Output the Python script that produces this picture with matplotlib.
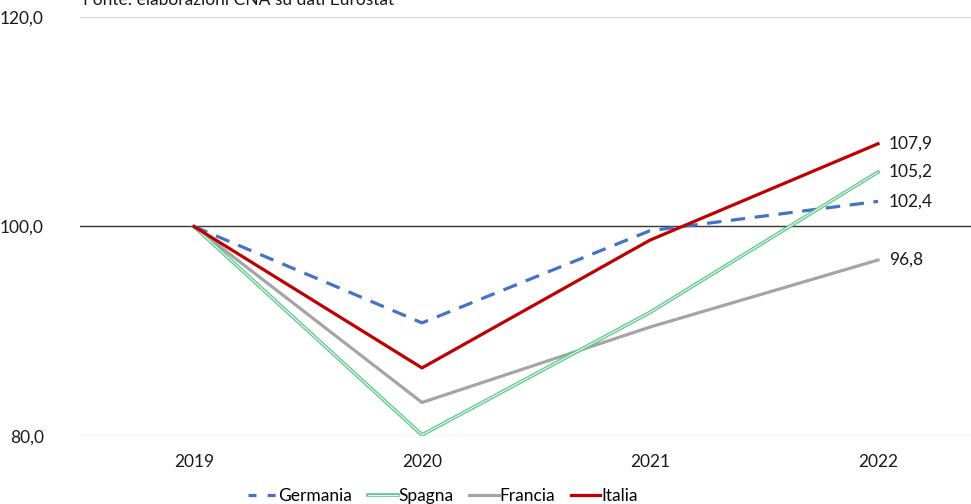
import numpy as np
import matplotlib
matplotlib.use("Agg")
import matplotlib.pyplot as plt
from matplotlib.lines import Line2D

plt.rcParams["font.family"] = ["Lato", "DejaVu Sans"]

years = ["2019", "2020", "2021", "2022"]
germania = [100.0, 90.8, 99.6, 102.4]
spagna = [100.0, 80.1, 91.8, 105.2]
francia = [100.0, 83.2, 90.4, 96.8]
italia = [100.0, 86.5, 98.7, 107.9]

y_ticks = [80, 100, 120]
source = "Fonte: elaborazioni CNA su dati Eurostat"

fig = plt.figure(figsize=(9.71, 5.04), dpi=100)
# plot area runs past the right edge, as in the exported sheet
ax = fig.add_axes([80 / 971, 68 / 504, 912 / 971, 419 / 504])

x = np.arange(len(years))

# gridlines + the category axis crossing at 100
for yv in y_ticks:
    ax.axhline(yv, color="#d9d9d9", linewidth=1.0, zorder=0)
ax.axhline(100, color="#3a3a3a", linewidth=1.0, zorder=1)

c_ger, c_spa, c_fra, c_ita = "#4472C4", "#5CC98A", "#A5A5A5", "#C00000"

ax.plot(x, germania, color=c_ger, linewidth=2.3, dashes=(4.5, 3), zorder=3)
ax.plot(x, spagna, color=c_spa, linewidth=2.6, zorder=3)
ax.plot(x, spagna, color="white", linewidth=0.7, zorder=3)
ax.plot(x, francia, color=c_fra, linewidth=2.3, zorder=2)
ax.plot(x, italia, color=c_ita, linewidth=2.3, zorder=4)

for series in (germania, spagna, francia, italia):
    ax.annotate(f"{series[-1]:.1f}".replace(".", ","), (x[-1], series[-1]),
                xytext=(8, 0), textcoords="offset points",
                ha="left", va="center", fontsize=12.5, color="#1a1a1a")

ax.set_xlim(-0.5, 3.5)
ax.set_ylim(80, 120)
ax.set_xticks(x)
ax.set_xticklabels(years)
ax.set_yticks(y_ticks)
ax.set_yticklabels([f"{v:.1f}".replace(".", ",") for v in y_ticks])
ax.tick_params(length=0, labelsize=12.5, colors="#1a1a1a")
ax.tick_params(axis="x", pad=13)
ax.tick_params(axis="y", pad=26)
for s in ax.spines.values():
    s.set_visible(False)

fig.text(83 / 971, 1.0, source, ha="left", va="center",
         fontsize=12.5, color="#1a1a1a")

handles = [
    Line2D([], [], color=c_ger, linewidth=2.3, dashes=(2.5, 3.5)),
    (Line2D([], [], color=c_spa, linewidth=2.6),
     Line2D([], [], color="white", linewidth=0.7)),
    Line2D([], [], color=c_fra, linewidth=2.3),
    Line2D([], [], color=c_ita, linewidth=2.3),
]
fig.legend(handles, ["Germania", "Spagna", "Francia", "Italia"],
           loc="center", bbox_to_anchor=(443 / 971, 8 / 504), ncol=4,
           frameon=False, fontsize=12.5, handlelength=1.7,
           handletextpad=0.05, columnspacing=0.9)

fig.savefig("out.png", dpi=100, facecolor="white")
